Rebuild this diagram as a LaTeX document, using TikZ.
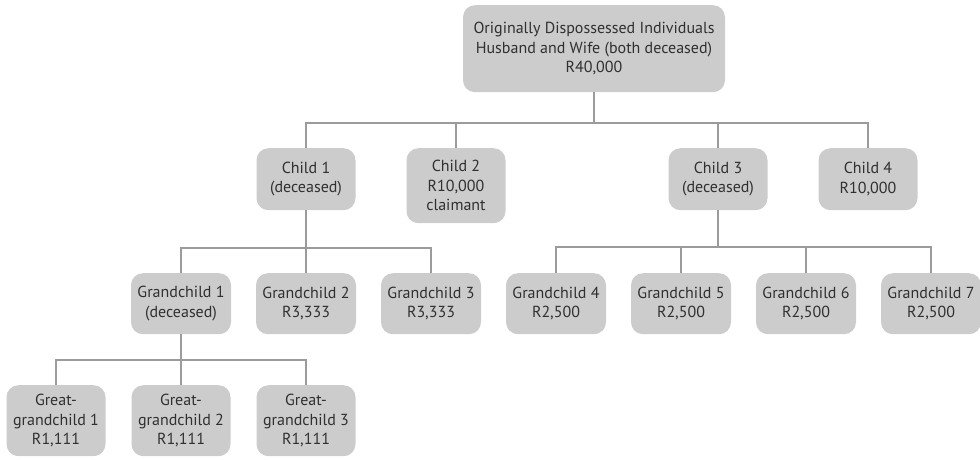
\documentclass[tikz,border=0pt]{standalone}
\usepackage{fontspec}
\setmainfont{PT Sans}
\usepackage{tikz}
\usetikzlibrary{calc}
\tikzset{>=latex}
\definecolor{boxgray}{HTML}{CCCCCC}
\definecolor{linegray}{HTML}{9B9B9B}
\definecolor{textgray}{HTML}{303030}
\tikzset{
  person/.style={anchor=north,rectangle,rounded corners=12pt,fill=boxgray,
    text=textgray,align=center,inner sep=0pt,minimum width=99pt,
    minimum height=62pt,font=\fontsize{16}{19.5}\selectfont},
  link/.style={draw=linegray,line width=1.6pt}
}
\begin{document}
\begin{tikzpicture}[x=1pt,y=-1pt]
    \useasboundingbox (0,0) rectangle (980,459);

    \node [person,minimum width=262pt,minimum height=87pt] (orig) at (594,5)
    {Originally Dispossessed Individuals\\Husband and Wife (both deceased)\\R40,000};

    \node [person] (c1) at (306,148) {Child 1\\(deceased)};
    \node [person,minimum height=75pt] (c2) at (456,148) {Child 2\\R10,000\\claimant};
    \node [person] (c3) at (718,148) {Child 3\\(deceased)};
    \node [person] (c4) at (868,148) {Child 4\\R10,000};

    \node [person,minimum width=100pt,minimum height=61pt] (g1) at (181,273)
    {Grandchild 1\\(deceased)};
    \node [person,minimum width=100pt,minimum height=61pt] (g2) at (306,273)
    {Grandchild 2\\R3,333};
    \node [person,minimum width=100pt,minimum height=61pt] (g3) at (431,273)
    {Grandchild 3\\R3,333};
    \node [person,minimum width=100pt,minimum height=61pt] (g4) at (556,273)
    {Grandchild 4\\R2,500};
    \node [person,minimum width=100pt,minimum height=61pt] (g5) at (681,273)
    {Grandchild 5\\R2,500};
    \node [person,minimum width=100pt,minimum height=61pt] (g6) at (806,273)
    {Grandchild 6\\R2,500};
    \node [person,minimum width=100pt,minimum height=61pt] (g7) at (931,273)
    {Grandchild 7\\R2,500};

    \node [person,minimum height=71pt] (gg1) at (56,385)
    {Great-\\grandchild 1\\R1,111};
    \node [person,minimum height=71pt] (gg2) at (181,385)
    {Great-\\grandchild 2\\R1,111};
    \node [person,minimum height=71pt] (gg3) at (306,385)
    {Great-\\grandchild 3\\R1,111};

    \coordinate (b0) at (594,123);
    \coordinate (b1) at (306,248);
    \coordinate (b3) at (718,247);
    \coordinate (b11) at (181,360);

    \draw [link] (orig.south) -- (b0);
    \draw [link] (c1.north) |- (b0) -| (c4.north);
    \draw [link] (c2.north) -- (c2.north |- b0);
    \draw [link] (c3.north) -- (c3.north |- b0);

    \draw [link] (c1.south) -- (b1);
    \draw [link] (g1.north) |- (b1) -| (g3.north);
    \draw [link] (g2.north) -- (b1);

    \draw [link] (c3.south) -- (b3);
    \draw [link] (g4.north) |- (b3) -| (g7.north);
    \draw [link] (g5.north) -- (g5.north |- b3);
    \draw [link] (g6.north) -- (g6.north |- b3);

    \draw [link] (g1.south) -- (b11);
    \draw [link] (gg1.north) |- (b11) -| (gg3.north);
    \draw [link] (gg2.north) -- (b11);
  \end{tikzpicture}
\end{document}
